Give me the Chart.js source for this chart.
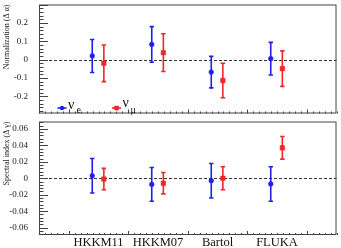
<!DOCTYPE html>
<html>
<head>
<meta charset="utf-8">
<script src="https://cdn.jsdelivr.net/npm/chart.js@4.4.1/dist/chart.umd.min.js"></script>
<style>
  html, body { margin: 0; padding: 0; background: #fff; width: 341px; height: 248px; overflow: hidden; }
  #top { position: absolute; left: 0; top: 0; }
  #bottom { position: absolute; left: 0; top: 117px; }
</style>
</head>
<body>
<canvas id="top" width="341" height="118"></canvas>
<canvas id="bottom" width="341" height="151"></canvas>
<script>
// flux models on the x axis
const models = ['HKKM11', 'HKKM07', 'Bartol', 'FLUKA'];

// normalization shift (Δα) with errors
const alphaNuE = [0.020, 0.083, -0.068, 0.005];
const alphaNuEErr = [0.090, 0.097, 0.086, 0.089];
const alphaNuMu = [-0.020, 0.038, -0.114, -0.049];
const alphaNuMuErr = [0.100, 0.103, 0.094, 0.097];

// spectral index shift (Δγ) with errors
const gammaNuE = [0.003, -0.0075, -0.003, -0.007];
const gammaNuEErr = [0.021, 0.0205, 0.021, 0.021];
const gammaNuMu = [-0.001, -0.006, 0.000, 0.037];
const gammaNuMuErr = [0.013, 0.013, 0.014, 0.0138];

// tick labels
const alphaTicks = [-0.2, -0.1, 0, 0.1, 0.2];
const gammaTicks = [-0.06, -0.04, -0.02, 0, 0.02, 0.04, 0.06];

const SERIF = "'Liberation Serif', 'Times New Roman', serif";
const BLUE = '#1f1ff2';
const RED = '#f22626';
const NUE_OFFSET = -0.105, NUMU_OFFSET = 0.09;

const fmt = v => String(+(+v).toFixed(3));

// frame, inward ticks, zero line, error bars, legend
const rootStyle = {
    id: 'rootStyle',
    beforeDatasetsDraw(chart, args, opts) {
        const { ctx, chartArea: a, scales: { y } } = chart;
        ctx.save();
        // dashed line at zero
        ctx.strokeStyle = '#333';
        ctx.lineWidth = 1;
        ctx.setLineDash([3, 2]);
        const y0 = Math.round(y.getPixelForValue(0)) + 0.5;
        ctx.beginPath();
        ctx.moveTo(a.left, y0);
        ctx.lineTo(a.right, y0);
        ctx.stroke();
        ctx.setLineDash([]);
        // vertical error bars with small caps
        chart.data.datasets.forEach((ds, i) => {
            const meta = chart.getDatasetMeta(i);
            ctx.strokeStyle = ds.borderColor;
            ctx.lineWidth = 1.6;
            meta.data.forEach((pt, j) => {
                const v = ds.data[j].y, e = ds.errors[j];
                const yt = y.getPixelForValue(v + e);
                const yb = y.getPixelForValue(v - e);
                ctx.beginPath();
                ctx.moveTo(pt.x, yt); ctx.lineTo(pt.x, yb);
                ctx.moveTo(pt.x - 2.2, yt); ctx.lineTo(pt.x + 2.2, yt);
                ctx.moveTo(pt.x - 2.2, yb); ctx.lineTo(pt.x + 2.2, yb);
                ctx.stroke();
            });
        });
        ctx.restore();
    },
    afterDraw(chart, args, opts) {
        const { ctx, chartArea: a, scales: { x, y } } = chart;
        ctx.save();
        ctx.strokeStyle = '#444';
        ctx.lineWidth = 1;
        ctx.strokeRect(a.left + 0.5, a.top + 0.5, a.right - a.left - 1, a.bottom - a.top - 1);

        // y ticks, pointing into the plot
        ctx.beginPath();
        const ratio = Math.round(opts.major / opts.minor);
        for (let k = Math.ceil(y.min / opts.minor); k <= Math.floor(y.max / opts.minor); k++) {
            const py = Math.round(y.getPixelForValue(k * opts.minor)) + 0.5;
            const len = k % ratio === 0 ? 9 : 4.5;
            ctx.moveTo(a.left, py);
            ctx.lineTo(a.left + len, py);
        }
        // x ticks along the bottom edge
        for (let k = 0; k <= 50; k++) {
            const px = Math.round(x.getPixelForValue(k / 10)) + 0.5;
            const len = k % 10 === 5 ? 4 : 2;
            ctx.moveTo(px, a.bottom);
            ctx.lineTo(px, a.bottom - len);
        }
        ctx.stroke();

        if (opts.legend) {
            const ly = a.top + 103.5;
            ctx.lineWidth = 1.6;
            // nu_e
            ctx.strokeStyle = BLUE;
            ctx.fillStyle = BLUE;
            ctx.beginPath();
            ctx.moveTo(57.5, ly); ctx.lineTo(66.5, ly);
            ctx.stroke();
            ctx.beginPath();
            ctx.arc(62, ly, 2.2, 0, Math.PI * 2);
            ctx.fill();
            // nu_mu
            ctx.strokeStyle = RED;
            ctx.fillStyle = RED;
            ctx.beginPath();
            ctx.moveTo(112, ly); ctx.lineTo(121, ly);
            ctx.stroke();
            ctx.fillRect(114.3, ly - 2.2, 4.5, 4.5);

            ctx.fillStyle = '#111';
            ctx.font = `14px ${SERIF}`;
            ctx.fillText('ν', 68, ly + 1);
            ctx.fillText('ν', 122.5, ly - 0.8);
            ctx.font = `10px ${SERIF}`;
            ctx.fillText('e', 76.5, ly + 4.5);
            ctx.fillText('μ', 130.5, ly + 5);
        }
        ctx.restore();
    }
};

function makeDatasets(nuE, nuEErr, nuMu, nuMuErr) {
    return [{
        label: 'nu_e',
        data: nuE.map((v, i) => ({ x: i + 1 + NUE_OFFSET, y: v })),
        errors: nuEErr,
        borderColor: BLUE,
        backgroundColor: BLUE,
        pointStyle: 'circle',
        pointRadius: 2.4,
        pointBorderWidth: 0.5
    }, {
        label: 'nu_mu',
        data: nuMu.map((v, i) => ({ x: i + 1 + NUMU_OFFSET, y: v })),
        errors: nuMuErr,
        borderColor: RED,
        backgroundColor: RED,
        pointStyle: 'rect',
        pointRadius: 3.2,
        pointBorderWidth: 0.5
    }];
}

function yAxis(min, max, ticks, title) {
    return {
        min: min,
        max: max,
        afterFit: s => { s.width = 39; s.paddingTop = 0; s.paddingBottom = 0; },
        afterBuildTicks: s => { s.ticks = ticks.map(v => ({ value: v })); },
        grid: { display: false },
        border: { display: false },
        ticks: { padding: 3, color: '#222', font: { family: SERIF, size: 9 }, callback: fmt },
        title: {
            display: true, text: title, align: 'end', color: '#222',
            font: { family: SERIF, size: 8 }, padding: { top: 2, bottom: 0 }
        }
    };
}

Chart.defaults.animation = false;

new Chart(document.getElementById('top').getContext('2d'), {
    type: 'scatter',
    data: { datasets: makeDatasets(alphaNuE, alphaNuEErr, alphaNuMu, alphaNuMuErr) },
    plugins: [rootStyle],
    options: {
        responsive: false,
        events: [],
        layout: { padding: { top: 0, right: 2, bottom: 1, left: 0 } },
        plugins: {
            legend: { display: false },
            tooltip: { enabled: false },
            rootStyle: { major: 0.1, minor: 0.02, legend: true }
        },
        scales: {
            x: { type: 'linear', min: 0, max: 5, display: false },
            y: yAxis(-0.294, 0.301, alphaTicks, 'Normalization (Δ α)')
        }
    }
});

new Chart(document.getElementById('bottom').getContext('2d'), {
    type: 'scatter',
    data: { datasets: makeDatasets(gammaNuE, gammaNuEErr, gammaNuMu, gammaNuMuErr) },
    plugins: [rootStyle],
    options: {
        responsive: false,
        events: [],
        layout: { padding: { top: 0, right: 2, bottom: 0, left: 0 } },
        plugins: {
            legend: { display: false },
            tooltip: { enabled: false },
            rootStyle: { major: 0.02, minor: 0.004, legend: false }
        },
        scales: {
            x: {
                type: 'linear', min: 0, max: 5,
                // canvas runs past the window; the extra height only holds the labels
                afterFit: s => { s.height = 33; s.paddingLeft = 0; s.paddingRight = 0; },
                afterBuildTicks: s => { s.ticks = models.map((m, i) => ({ value: i + 1 })); },
                grid: { display: false, drawTicks: false },
                border: { display: false },
                ticks: {
                    padding: 0, maxRotation: 0, autoSkip: false, color: '#111',
                    font: { family: SERIF, size: 12.5 },
                    callback: v => models[v - 1]
                }
            },
            y: yAxis(-0.069, 0.069, gammaTicks, 'Spectral index (Δ γ)')
        }
    }
});
</script>
</body>
</html>
